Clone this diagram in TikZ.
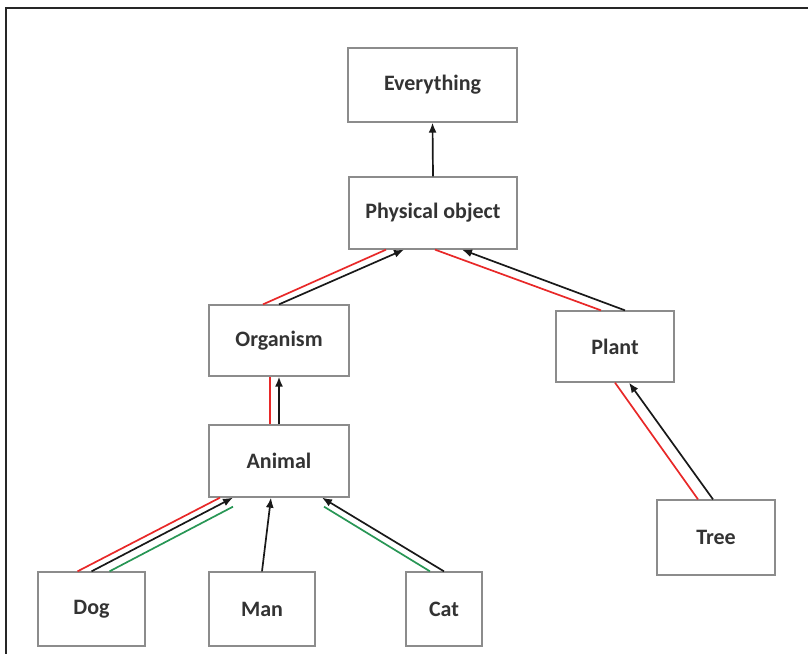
\documentclass[tikz,border=0pt]{standalone}
\usepackage{fontspec}
\setmainfont{Carlito}
\usepackage{tikz}
\usetikzlibrary{arrows,arrows.meta,positioning}

\definecolor{linkred}{RGB}{232,40,40}
\definecolor{linkgreen}{RGB}{40,150,85}

\tikzset{
	concept/.style={draw=black!45,line width=1.3pt,fill=white,text=black!80,
		font=\bfseries\fontsize{22}{22}\selectfont,inner sep=0pt},
	isa/.style={-{Latex[length=10pt,width=8pt]},black!90,line width=1.7pt},
	redlink/.style={linkred,line width=1.7pt},
	greenlink/.style={linkgreen,line width=1.7pt}
}

\begin{document}
\begin{tikzpicture}[x=1pt,y=-1pt]

	\useasboundingbox (0,0) rectangle (808,654);
	\draw[black!85,line width=1.2pt] (808,8) -- (6,8) -- (6,654);

	\node[concept,minimum width=169pt,minimum height=74pt] (everything) at (432.5,85) {Everything};
	\node[concept,minimum width=168pt,minimum height=72pt] (physobj) at (433,213) {Physical object};
	\node[concept,minimum width=140pt,minimum height=71pt] (organism) at (279,340.5) {Organism};
	\node[concept,minimum width=118pt,minimum height=71pt] (plant) at (615,346.5) {Plant};
	\node[concept,minimum width=140pt,minimum height=72pt] (animal) at (279,461) {Animal};
	\node[concept,minimum width=118pt,minimum height=75pt] (tree) at (716,537.5) {Tree};
	\node[concept,minimum width=107pt,minimum height=74pt] (dog) at (91.5,609) {Dog};
	\node[concept,minimum width=106pt,minimum height=74pt] (man) at (262,609) {Man};
	\node[concept,minimum width=76pt,minimum height=74pt] (cat) at (444,609) {Cat};

	\draw[isa] (physobj.north) -- (everything.south);

	\draw[redlink] ([xshift=-16pt]organism.north) -- ([xshift=-47pt]physobj.south);
	\draw[isa] (organism.north) -- ([xshift=-29pt]physobj.south);
	\draw[redlink] ([xshift=-14pt]plant.north) -- ([xshift=2pt]physobj.south);
	\draw[isa] ([xshift=10pt]plant.north) -- ([xshift=29pt]physobj.south);

	\draw[redlink] ([xshift=-9pt]animal.north) -- ([xshift=-9pt]organism.south);
	\draw[isa] (animal.north) -- (organism.south);
	\draw[redlink] ([xshift=-18pt]tree.north) -- (plant.south);
	\draw[isa] ([xshift=-3pt]tree.north) -- ([xshift=14pt]plant.south);

	\draw[redlink] ([xshift=-14pt]dog.north) -- ([xshift=-59pt]animal.south);
	\draw[isa] (dog.north) -- ([xshift=-46pt]animal.south);
	\draw[greenlink] ([xshift=18pt]dog.north) -- ([xshift=-46pt,yshift=-9pt]animal.south);
	\draw[isa] (man.north) -- ([xshift=-8pt]animal.south);
	\draw[isa] (cat.north) -- ([xshift=43pt]animal.south);
	\draw[greenlink] ([xshift=-14pt]cat.north) -- ([xshift=45pt,yshift=-9pt]animal.south);

\end{tikzpicture}
\end{document}
